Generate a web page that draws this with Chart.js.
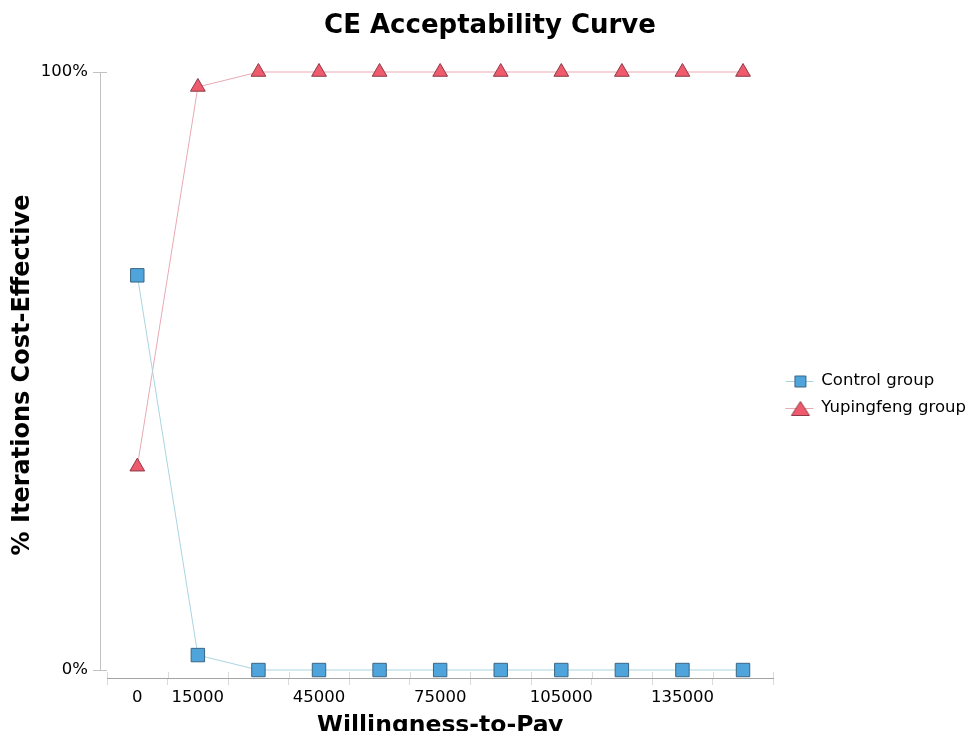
<!DOCTYPE html>
<html><head><meta charset="utf-8">
<script src="https://cdn.jsdelivr.net/npm/chart.js@4/dist/chart.umd.min.js"></script>
<style>html,body{margin:0;padding:0;background:#fff;overflow:hidden}</style>
</head><body>
<canvas id="c" width="969" height="731" style="width:969px;height:731px;display:block"></canvas>
<script>
const categories = [0,15000,30000,45000,60000,75000,90000,105000,120000,135000,150000];
const shownTickLabels = ['0','15000','','45000','','75000','','105000','','135000',''];
const controlGroup = [0.66,0.025,0,0,0,0,0,0,0,0,0];
const yupingfengGroup = [0.34,0.975,1,1,1,1,1,1,1,1,1];
const yTickValues = [0,1];
const seriesNames = ['Control group','Yupingfeng group'];

const FONT = "'DejaVu Sans', Verdana, sans-serif";
const styles = [
  {line:'#a9d5e0', fill:'#4fa4dc', border:'#3a6684', shape:'rect', r:9.5},
  {line:'#e9a9b3', fill:'#ef5a6c', border:'#8c3a47', shape:'triangle', r:8.5}
];

function legendIcon(s){
  const cv = document.createElement('canvas');
  cv.width = 32; cv.height = 20;
  const ctx = cv.getContext('2d');
  ctx.strokeStyle = s.line; ctx.lineWidth = 1;
  ctx.beginPath(); ctx.moveTo(3,10.5); ctx.lineTo(31,10.5); ctx.stroke();
  ctx.fillStyle = s.fill; ctx.strokeStyle = s.border; ctx.lineWidth = 1;
  ctx.beginPath();
  if (s.shape === 'rect') {
    ctx.rect(12.5, 5, 11, 11);
  } else {
    ctx.moveTo(18, 3.5); ctx.lineTo(27, 17.5); ctx.lineTo(9, 17.5); ctx.closePath();
  }
  ctx.fill(); ctx.stroke();
  return cv;
}

const axisDecor = {
  id: 'axisDecor',
  beforeDatasetsDraw(chart) {
    const ctx = chart.ctx, y = chart.scales.y, x = chart.scales.x;
    const ax = chart.chartArea.left - 7;
    ctx.save();
    ctx.lineWidth = 1;
    ctx.strokeStyle = '#c2c2c2';
    ctx.beginPath();
    ctx.moveTo(ax + 0.5, y.getPixelForValue(1));
    ctx.lineTo(ax + 0.5, y.getPixelForValue(0));
    yTickValues.forEach(v => {
      const py = Math.round(y.getPixelForValue(v)) + 0.5;
      ctx.moveTo(ax - 7, py); ctx.lineTo(ax + 7, py);
    });
    ctx.stroke();
    ctx.strokeStyle = '#dadada';
    ctx.beginPath();
    const n = categories.length;
    const step = (x.right - x.left) / n;
    for (let k = 0; k <= n; k++) {
      const px = Math.round(x.left + k * step) + 0.5;
      ctx.moveTo(px, x.top - 6); ctx.lineTo(px, x.top);
    }
    ctx.stroke();
    ctx.restore();
  }
};

const seriesData = [controlGroup, yupingfengGroup];
const datasets = seriesData.map((d,i)=>({
  label: seriesNames[i],
  data: d,
  borderColor: styles[i].line,
  borderWidth: 1,
  backgroundColor: styles[i].fill,
  pointBackgroundColor: styles[i].fill,
  pointBorderColor: styles[i].border,
  pointBorderWidth: 1,
  pointStyle: styles[i].shape,
  pointRadius: styles[i].r,
  pointHoverRadius: styles[i].r,
  tension: 0,
  clip: false
}));

new Chart(document.getElementById('c'), {
  type: 'line',
  data: { labels: categories, datasets },
  plugins: [axisDecor],
  options: {
    responsive: false,
    animation: false,
    devicePixelRatio: 1,
    layout: { padding: { left: 4, right: -7, top: 0, bottom: -9 } },
    plugins: {
      title: { display: true, text: 'CE Acceptability Curve', color:'#000',
        font: { family: FONT, size: 26, weight: 'bold' }, padding: { top: 11, bottom: 29.8 } },
      legend: {
        position: 'right',
        title: { display: true, text: ' ', font: { family: FONT, size: 10 }, padding: { top: 18.5, bottom: 18.5 } },
        labels: {
          color: '#000',
          font: { family: FONT, size: 16.5 },
          usePointStyle: true,
          pointStyleWidth: 29.25,
          padding: 10.5,
          generateLabels: (chart) => chart.data.datasets.map((ds,i)=>({
            text: ds.label, pointStyle: legendIcon(styles[i]), datasetIndex: i, fontColor: '#000',
            fillStyle: styles[i].fill, strokeStyle: styles[i].border, lineWidth: 0, hidden:false
          }))
        }
      },
      tooltip: { enabled: false }
    },
    scales: {
      x: {
        type: 'category',
        offset: true,
        grid: { offset: true, drawOnChartArea: false, drawTicks: true, tickLength: 7, color: '#dadada' },
        border: { color: '#a4a4a4' },
        ticks: { autoSkip: false, maxRotation: 0, color: '#000', padding: 3,
          font: { family: FONT, size: 16.5 },
          callback: (v, i) => shownTickLabels[i] },
        title: { display: true, text: 'Willingness-to-Pay', color: '#000',
          font: { family: FONT, size: 23.5, weight: 'bold' }, padding: { top: 1, bottom: 0 } }
      },
      y: {
        min: -0.013333, max: 1,
        afterBuildTicks: (scale) => { scale.ticks = yTickValues.map(v => ({ value: v })); },
        afterFit: (scale) => { scale.width = 103; },
        grid: { display: false, drawTicks: false },
        border: { display: false },
        ticks: { color: '#000', padding: 19, font: { family: FONT, size: 16.5 },
          callback: (v) => Math.round(v*100) + '%' },
        title: { display: true, text: '% Iterations Cost-Effective', color: '#000',
          font: { family: FONT, size: 24, weight: 'bold' }, padding: { top: 4, bottom: 3 } }
      }
    }
  }
});
</script>
</body></html>
